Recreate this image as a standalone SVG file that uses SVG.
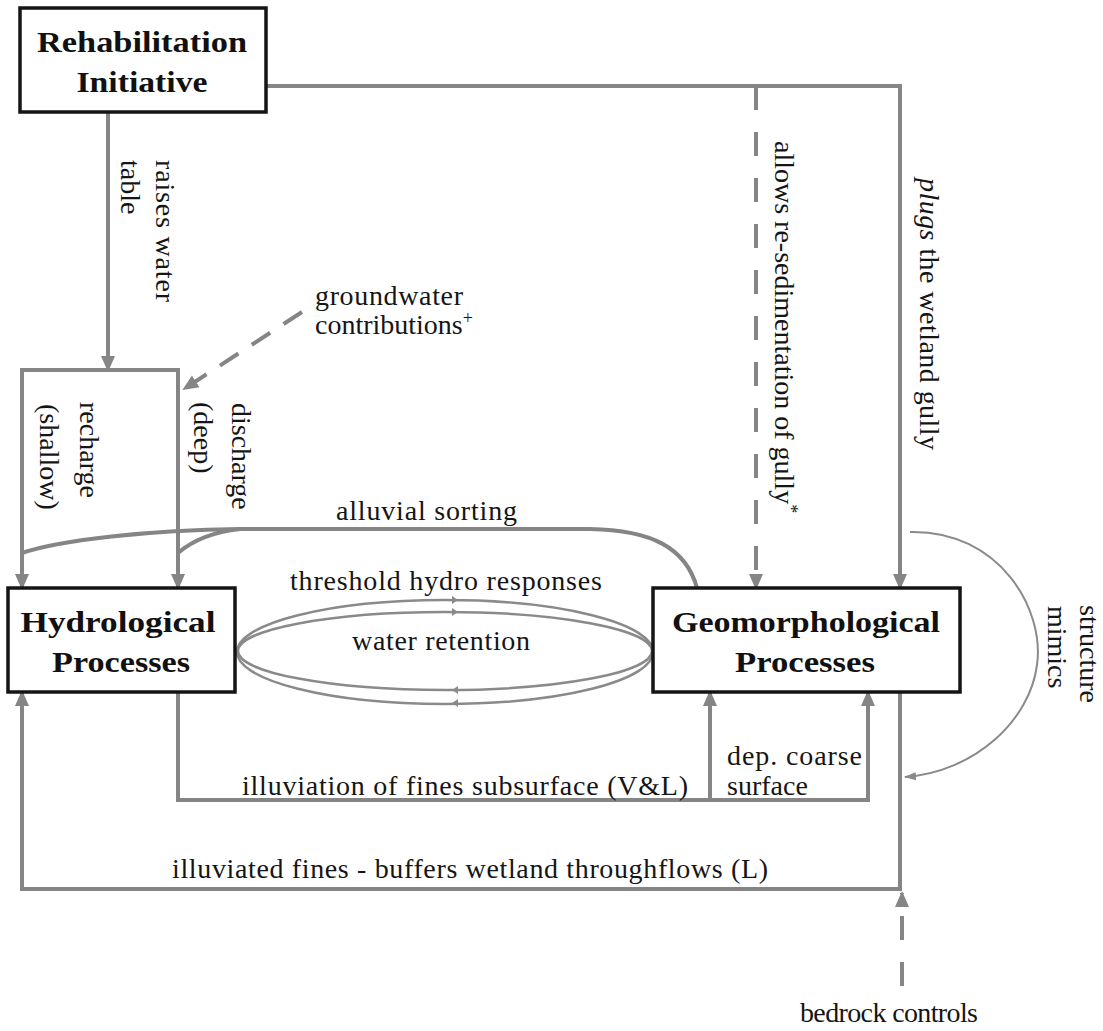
<svg xmlns="http://www.w3.org/2000/svg" width="1103" height="1031" viewBox="0 0 1103 1031">
<style>
  .t { font-family: "Liberation Serif", "Times New Roman", serif; font-size: 28px; fill: #151515; }
  .b { font-family: "Liberation Serif", "Times New Roman", serif; font-size: 30px; font-weight: bold; fill: #111; }
  .box { fill: #fff; stroke: #151515; stroke-width: 3.5; }
  .c { fill: none; stroke: #858585; stroke-width: 4; }
  .d { fill: none; stroke: #858585; stroke-width: 4; stroke-dasharray: 24 22; }
  .thin { fill: none; stroke: #8a8a8a; stroke-width: 2; }
  .ell { fill: none; stroke: #8a8a8a; stroke-width: 2.5; }
</style>
<defs>
  <marker id="ah" viewBox="0 0 16 16" refX="14" refY="8" markerWidth="16" markerHeight="16" markerUnits="userSpaceOnUse" orient="auto">
    <path d="M0,1 L16,8 L0,15 z" fill="#858585"/>
  </marker>
  <marker id="ahs" viewBox="0 0 12 12" refX="11" refY="6" markerWidth="12" markerHeight="12" markerUnits="userSpaceOnUse" orient="auto">
    <path d="M0,2 L12,6 L0,10 z" fill="#8a8a8a"/>
  </marker>
</defs>
<rect width="1103" height="1031" fill="#fff"/>

<g id="connectors">
  <path class="c" d="M266 86 H900 V588" marker-end="url(#ah)"/>
  <path class="d" d="M756 86 V588" marker-end="url(#ah)"/>
  <path class="c" d="M108 113 V370" marker-end="url(#ah)"/>
  <path class="c" d="M100 370 H22 V588" marker-end="url(#ah)"/>
  <path class="c" d="M100 370 H178 V588" marker-end="url(#ah)"/>
  <path class="c" d="M302 312 L184 389" stroke-dasharray="22 16" marker-end="url(#ah)"/>
  <path class="c" d="M697 588 C686 548 652 530 590 529 L240 529 C150 530 60 540 22 553"/>
  <path class="c" d="M240 529 C212 532 192 541 178 553"/>
  <path class="c" d="M178 692 V800 H868 V692" marker-end="url(#ah)"/>
  <path class="c" d="M710 800 V692" marker-end="url(#ah)"/>
  <path class="c" d="M900 692 V889 H22 V692" marker-end="url(#ah)"/>
  <path class="d" d="M902 986 V893" marker-end="url(#ah)"/>
  <path class="thin" d="M910 532 C1000 530 1045 610 1037 665 C1030 720 975 772 905 777" marker-end="url(#ahs)"/>
  <ellipse class="ell" cx="445" cy="652" rx="208" ry="52"/>
  <ellipse class="ell" cx="445" cy="651" rx="207" ry="39"/>
  <g fill="#8a8a8a">
    <path d="M452 596 L458 600 L452 604 z"/>
    <path d="M452 608 L458 612 L452 616 z"/>
    <path d="M458 686 L452 690 L458 694 z"/>
    <path d="M458 699 L452 703 L458 707 z"/>
  </g>
</g>

<g id="node-rehab">
  <rect class="box" x="20" y="8" width="246" height="104"/>
  <text class="b" x="142" y="52" text-anchor="middle" textLength="210" lengthAdjust="spacingAndGlyphs">Rehabilitation</text>
  <text class="b" x="142" y="92" text-anchor="middle" textLength="131" lengthAdjust="spacingAndGlyphs">Initiative</text>
</g>
<g id="node-hydro">
  <rect class="box" x="8" y="588" width="227" height="104"/>
  <text class="b" x="118" y="632" text-anchor="middle" textLength="195" lengthAdjust="spacingAndGlyphs">Hydrological</text>
  <text class="b" x="121" y="672" text-anchor="middle" textLength="138" lengthAdjust="spacingAndGlyphs">Processes</text>
</g>
<g id="node-geo">
  <rect class="box" x="653" y="588" width="307" height="104"/>
  <text class="b" x="806" y="632" text-anchor="middle" textLength="268" lengthAdjust="spacingAndGlyphs">Geomorphological</text>
  <text class="b" x="805" y="672" text-anchor="middle" textLength="140" lengthAdjust="spacingAndGlyphs">Processes</text>
</g>

<g id="labels">
  <text class="t" transform="translate(156,160) rotate(90)" textLength="142">raises water</text>
  <text class="t" transform="translate(121,160) rotate(90)">table</text>
  <text class="t" x="315" y="305" textLength="148">groundwater</text>
  <text class="t" x="315" y="334">contributions<tspan font-size="18" dy="-10">+</tspan></text>
  <text class="t" transform="translate(80,402) rotate(90)">recharge</text>
  <text class="t" transform="translate(40,404) rotate(90)">(shallow)</text>
  <text class="t" transform="translate(232,403) rotate(90)">discharge</text>
  <text class="t" transform="translate(194,402) rotate(90)">(deep)</text>
  <text class="t" transform="translate(775,141) rotate(90)">allows re-sedimentation of gully<tspan font-size="18" dy="-10">*</tspan></text>
  <text class="t" transform="translate(920,178) rotate(90)" textLength="272"><tspan font-style="italic">plugs</tspan> the wetland gully</text>
  <text class="t" x="336" y="520" textLength="181">alluvial sorting</text>
  <text class="t" x="290" y="590" textLength="312">threshold hydro responses</text>
  <text class="t" x="352" y="650" textLength="178">water retention</text>
  <text class="t" transform="translate(1080,605) rotate(90)">structure</text>
  <text class="t" transform="translate(1048,606) rotate(90)">mimics</text>
  <text class="t" x="727" y="765" textLength="135">dep. coarse</text>
  <text class="t" x="727" y="795">surface</text>
  <text class="t" x="242" y="795" textLength="446">illuviation of fines subsurface (V&amp;L)</text>
  <text class="t" x="172" y="878" textLength="596">illuviated fines - buffers wetland throughflows (L)</text>
  <text class="t" x="800" y="1022" textLength="178">bedrock controls</text>
</g>
</svg>
